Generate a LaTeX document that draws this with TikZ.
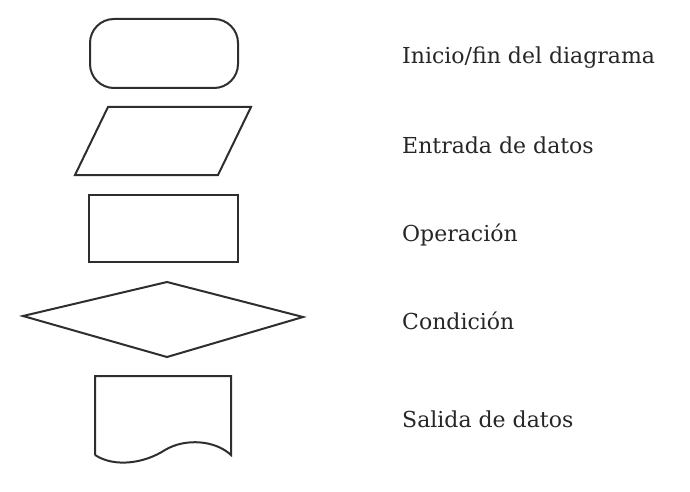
\documentclass[tikz,border=0pt]{standalone}
\usepackage{fontspec}
\setmainfont{DejaVu Serif}
\begin{document}
\begin{tikzpicture}[x=1pt,y=-1pt,
  shp/.style={draw=black!82, line width=2pt, line join=miter},
  lbl/.style={anchor=base west, inner sep=0pt, font=\fontsize{22}{26}\selectfont, text=black!85}]
\useasboundingbox (0,0) rectangle (690,492);
% start/end
\draw[shp, rounded corners=24pt] (90,19) rectangle (238,88);
% input
\draw[shp] (108,107) -- (251,107) -- (218,175) -- (75,175) -- cycle;
% operation
\draw[shp] (89,195) rectangle (238,262);
% condition
\draw[shp] (23,316) -- (167,282) -- (303,317) -- (167,357) -- cycle;
% output
\draw[shp] (95,455) -- (95,376) -- (231,376) -- (231,455)
  .. controls (215,440) and (185,438) .. (165,450)
  .. controls (145,463) and (115,468) .. (95,455);
\node[lbl] (t1) at (402,64) {Inicio/fin del diagrama};
\node[lbl] (t2) at (402,153) {Entrada de datos};
\node[lbl] (t3) at (402,241) {Operación};
\node[lbl] (t4) at (402,329) {Condición};
\node[lbl] (t5) at (402,427) {Salida de datos};
\end{tikzpicture}
\end{document}
